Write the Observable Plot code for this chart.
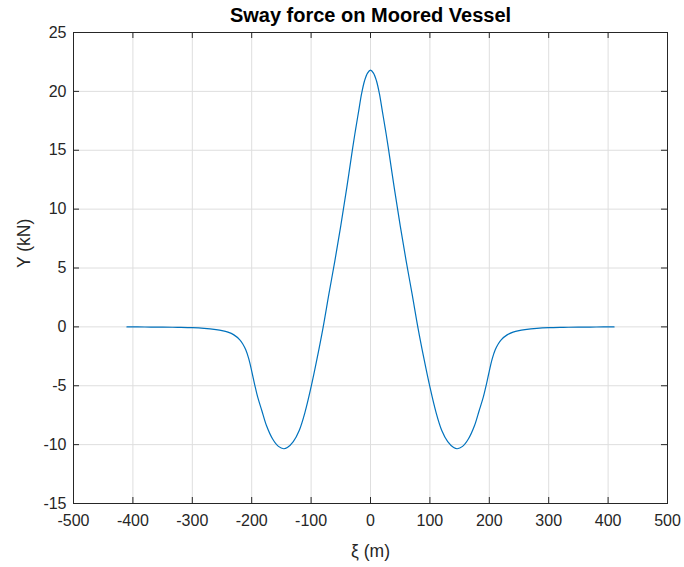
<!DOCTYPE html>
<html>
<head>
<meta charset="utf-8">
<script src="https://cdn.jsdelivr.net/npm/d3@7"></script>
<script src="https://cdn.jsdelivr.net/npm/@observablehq/plot@0.6"></script>
<style>
  html, body { margin: 0; padding: 0; background: #fff; }
  #chart svg { display: block; }
</style>
</head>
<body>
<div id="chart"></div>
<script>
// Data
const xi = [-410, -380, -350, -325, -300, -280, -260, -250, -240, -230, -220, -215, -210, -205, -200, -195, -190, -183, -175, -165, -155, -146, -140, -130, -120, -110, -100, -90, -80, -70, -60, -50, -40, -30, -25, -20, -15, -10, -5, 0,
  5, 10, 15, 20, 25, 30, 40, 50, 60, 70, 80, 90, 100, 110, 120, 130, 140, 146, 155, 165, 175, 183, 190, 195, 200, 205, 210, 215, 220, 230, 240, 250, 260, 280, 300, 325, 350, 380, 410];
const swayY = [0, -0.01, -0.02, -0.04, -0.07, -0.13, -0.24, -0.32, -0.45, -0.68, -1.1, -1.45, -1.95, -2.7, -3.75, -4.9, -5.95, -7.1, -8.4, -9.5, -10.15, -10.35, -10.25, -9.75, -8.8, -7.2, -5.1, -2.7, -0.1, 2.8, 5.6, 8.6, 11.8, 15.2, 16.8, 18.3, 19.8, 20.9, 21.55, 21.8,
  21.55, 20.9, 19.8, 18.3, 16.8, 15.2, 11.8, 8.6, 5.6, 2.8, -0.1, -2.7, -5.1, -7.2, -8.8, -9.75, -10.25, -10.35, -10.15, -9.5, -8.4, -7.1, -5.95, -4.9, -3.75, -2.7, -1.95, -1.45, -1.1, -0.68, -0.45, -0.32, -0.24, -0.13, -0.07, -0.04, -0.02, -0.01, 0];
const xTicks = [-500, -400, -300, -200, -100, 0, 100, 200, 300, 400, 500];
const yTicks = [-15, -10, -5, 0, 5, 10, 15, 20, 25];
const titleText = "Sway force on Moored Vessel";
const xLabel = "ξ (m)";
const yLabel = "Y (kN)";

const data = xi.map((x, i) => ({x, y: swayY[i]}));

const W = 684, H = 567;
const mL = 73, mR = 17, mT = 32, mB = 64;
const pw = W - mL - mR, ph = H - mT - mB;
const tick = 6;
const ink = "#262626";
const gridC = "#dedede";
const fmt = d => String(d);

const chart = Plot.plot({
  width: W,
  height: H,
  marginLeft: mL,
  marginRight: mR,
  marginTop: mT,
  marginBottom: mB,
  style: {fontFamily: "'Liberation Sans', Arial, Helvetica, sans-serif", fontSize: "16px", color: ink, background: "#fff"},
  x: {domain: [-500, 500], ticks: xTicks},
  y: {domain: [-15, 25], ticks: yTicks},
  marks: [
    Plot.gridX(xTicks, {stroke: gridC, strokeOpacity: 1}),
    Plot.gridY(yTicks, {stroke: gridC, strokeOpacity: 1}),
    Plot.line(data, {x: "x", y: "y", stroke: "#0072BD", strokeWidth: 1.2, curve: "catmull-rom"}),
    Plot.frame({stroke: ink, strokeWidth: 1}),
    Plot.ruleX(xTicks, {x: d => d, insetTop: ph - tick, stroke: ink}),
    Plot.ruleX(xTicks, {x: d => d, insetBottom: ph - tick, stroke: ink}),
    Plot.ruleY(yTicks, {y: d => d, insetRight: pw - tick, stroke: ink}),
    Plot.ruleY(yTicks, {y: d => d, insetLeft: pw - tick, stroke: ink}),
    Plot.axisX(xTicks, {tickSize: 0, tickPadding: 11, label: null, fill: ink, fontSize: 16, tickFormat: fmt}),
    Plot.axisY(yTicks, {tickSize: 0, tickPadding: 7, label: null, fill: ink, fontSize: 16, tickFormat: fmt}),
    Plot.text([titleText], {text: d => d, frameAnchor: "top", dy: -25, fontWeight: "bold", fontSize: 20, fill: "#000"}),
    Plot.text([xLabel], {text: d => d, frameAnchor: "bottom", dy: 53, fontSize: 17.5, fill: ink}),
    Plot.text([yLabel], {text: d => d, frameAnchor: "left", dx: -49, rotate: -90, fontSize: 17.5, fill: ink})
  ]
});
document.getElementById("chart").appendChild(chart);
</script>
</body>
</html>
